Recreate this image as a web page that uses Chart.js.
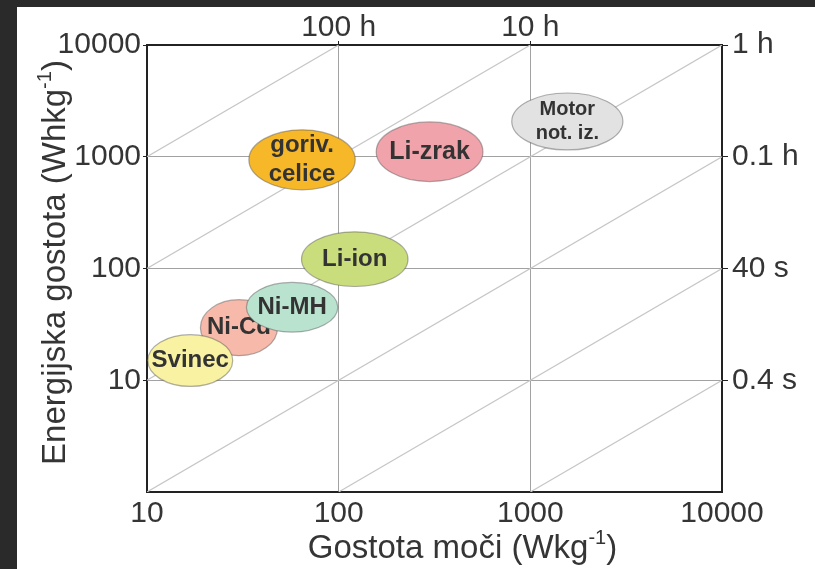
<!DOCTYPE html>
<html>
<head>
<meta charset="utf-8">
<script src="https://cdn.jsdelivr.net/npm/chart.js@4.4.1/dist/chart.umd.min.js"></script>
<style>
  body { margin: 0; background: #2a2a2a; }
  #panel { position: absolute; left: 17px; top: 7px; width: 798px; height: 562px; background: #fff; }
</style>
</head>
<body>
<div id="panel"><canvas id="chartCanvas" width="798" height="562"></canvas></div>
<script>
// osi (log-log)
const powerTicks = [10, 100, 1000, 10000];
const powerLabels = ["10", "100", "1000", "10000"];
const energyTicks = [10, 100, 1000, 10000];
const energyLabels = ["10", "100", "1000", "10000"];
const timeTicksTop = [100, 1000];
const timeLabelsTop = ["100 h", "10 h"];
const timeTicksRight = [10, 100, 1000, 10000];
const timeLabelsRight = ["0.4 s", "40 s", "0.1 h", "1 h"];

// črte konstantnega časa: začetna in končna točka
const timeLineP = [[10, 100], [10, 1000], [10, 10000], [10, 10000], [100, 10000], [1000, 10000]];
const timeLineE = [[1000, 10000], [100, 10000], [10, 10000], [1, 1000], [1, 100], [1, 10]];

// tehnologije: območje gostote moči (W/kg) in energije (Wh/kg)
const techNames = [["Ni-Cd"], ["Svinec"], ["Ni-MH"], ["Li-ion"], ["goriv.", "celice"], ["Li-zrak"], ["Motor", "not. iz."]];
const powerMin = [19, 10.1, 33, 64, 34, 157, 800];
const powerMax = [48, 28, 99, 230, 122, 566, 3040];
const energyMin = [16.6, 8.8, 27, 69, 506, 600, 1150];
const energyMax = [52.6, 25.6, 75, 213, 1740, 2050, 3720];

const techColors = ["#f6b9aa", "#f8f2a2", "#b9e2cf", "#cadd7c", "#f6b729", "#f0a3ab", "#e2e2e2"];
const techFontSizes = [24, 24, 24, 24, 24, 25, 20];

const fontFamily = "'Liberation Sans', Arial, sans-serif";
const textColor = "#353535";

function fixedTicks(values) {
  return function(scale) {
    scale.ticks = values.map(v => ({ value: v }));
  };
}

function drawSupTitle(ctx, main, sup, tail, cx, cy, rot) {
  ctx.save();
  ctx.translate(cx, cy);
  ctx.rotate(rot);
  ctx.fillStyle = textColor;
  ctx.textBaseline = "middle";
  ctx.textAlign = "left";
  const big = "33px " + fontFamily;
  const small = "20px " + fontFamily;
  ctx.font = big;
  const w1 = ctx.measureText(main).width;
  const w3 = ctx.measureText(tail).width;
  ctx.font = small;
  const w2 = ctx.measureText(sup).width;
  const x0 = -(w1 + w2 + w3) / 2;
  ctx.font = big;
  ctx.fillText(main, x0, 0);
  ctx.font = small;
  ctx.fillText(sup, x0 + w1, -11);
  ctx.font = big;
  ctx.fillText(tail, x0 + w1 + w2, 0);
  ctx.restore();
}

// elipse s napisi in naslovi osi
const ragonePlugin = {
  id: "ragone",
  afterDatasetsDraw(chart) {
    const { ctx, scales: { x, y } } = chart;
    techNames.forEach((lines, i) => {
      const x1 = x.getPixelForValue(powerMin[i]);
      const x2 = x.getPixelForValue(powerMax[i]);
      const y1 = y.getPixelForValue(energyMin[i]);
      const y2 = y.getPixelForValue(energyMax[i]);
      const cx = (x1 + x2) / 2, cy = (y1 + y2) / 2;
      ctx.save();
      ctx.beginPath();
      ctx.ellipse(cx, cy, (x2 - x1) / 2, (y1 - y2) / 2, 0, 0, Math.PI * 2);
      ctx.fillStyle = techColors[i];
      ctx.fill();
      ctx.strokeStyle = "rgba(80,80,80,0.45)";
      ctx.lineWidth = 1.2;
      ctx.stroke();
      const size = techFontSizes[i];
      const lh = size * 1.18;
      ctx.font = "bold " + size + "px " + fontFamily;
      ctx.fillStyle = "#333";
      ctx.textAlign = "center";
      ctx.textBaseline = "middle";
      lines.forEach((t, k) => {
        ctx.fillText(t, cx, cy + (k - (lines.length - 1) / 2) * lh);
      });
      ctx.restore();
    });
  },
  afterDraw(chart) {
    const { ctx, chartArea: a } = chart;
    drawSupTitle(ctx, "Gostota moči (Wkg", "-1", ")", (a.left + a.right) / 2 + 28, a.bottom + 57, 0);
    drawSupTitle(ctx, "Energijska gostota (Whkg", "-1", ")", a.left - 91, (a.top + a.bottom) / 2 - 6, -Math.PI / 2);
  }
};

const datasets = timeLineP.map((p, i) => ({
  data: [{ x: p[0], y: timeLineE[i][0] }, { x: p[1], y: timeLineE[i][1] }],
  showLine: true,
  borderColor: "#c6c6c6",
  borderWidth: 1.2,
  pointRadius: 0
}));

const tickFont = { family: fontFamily, size: 30 };
const borderStyle = { color: "#222", width: 2 };

new Chart(document.getElementById("chartCanvas"), {
  type: "scatter",
  data: { datasets: datasets },
  options: {
    responsive: false,
    animation: false,
    layout: { padding: 0 },
    plugins: { legend: { display: false }, tooltip: { enabled: false } },
    scales: {
      x: {
        type: "logarithmic", position: "bottom", min: 10, max: 10000,
        afterBuildTicks: fixedTicks(powerTicks),
        afterFit: s => { s.height = 77; },
        ticks: { callback: (v, i) => powerLabels[i], font: tickFont, color: textColor, padding: 4, maxRotation: 0, autoSkip: false },
        grid: { color: "#a2a2a2", lineWidth: 1, drawTicks: false },
        border: borderStyle
      },
      x2: {
        type: "logarithmic", position: "top", min: 10, max: 10000,
        afterBuildTicks: fixedTicks(timeTicksTop),
        afterFit: s => { s.height = 38; },
        ticks: { callback: (v, i) => timeLabelsTop[i], font: tickFont, color: textColor, padding: -5, maxRotation: 0, autoSkip: false },
        grid: { drawOnChartArea: false, tickLength: 4, tickColor: "#222" },
        border: borderStyle
      },
      y: {
        type: "logarithmic", position: "left", min: 1, max: 10000,
        afterBuildTicks: fixedTicks(energyTicks),
        afterFit: s => { s.width = 130; },
        ticks: { callback: (v, i) => energyLabels[i], font: tickFont, color: textColor, padding: 2, autoSkip: false },
        grid: { color: "#a2a2a2", lineWidth: 1, tickLength: 4, tickColor: "#222" },
        border: borderStyle
      },
      y2: {
        type: "logarithmic", position: "right", min: 1, max: 10000,
        afterBuildTicks: fixedTicks(timeTicksRight),
        afterFit: s => { s.width = 93; },
        ticks: { callback: (v, i) => timeLabelsRight[i], font: tickFont, color: textColor, padding: 4, autoSkip: false },
        grid: { drawOnChartArea: false, tickLength: 6, tickColor: "#222" },
        border: borderStyle
      }
    }
  },
  plugins: [ragonePlugin]
});
</script>
</body>
</html>
